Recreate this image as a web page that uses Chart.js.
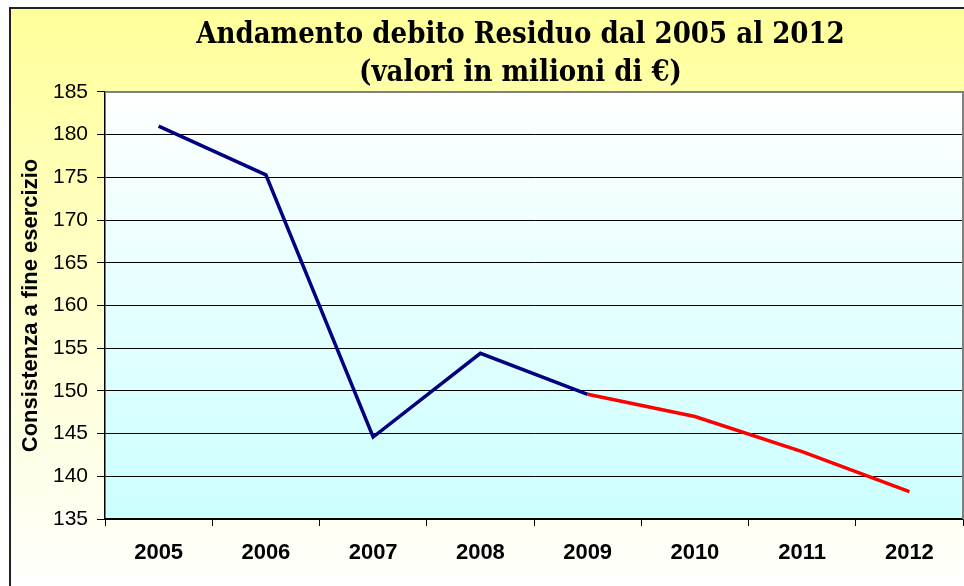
<!DOCTYPE html>
<html>
<head>
<meta charset="utf-8">
<script src="https://cdn.jsdelivr.net/npm/chart.js@4.4.0/dist/chart.umd.min.js"></script>
<style>
  html, body { margin: 0; padding: 0; background: #fff; }
  canvas { display: block; }
</style>
</head>
<body>
<canvas id="debito-residuo" width="964" height="586"></canvas>
<script>
// dati
const anni = ['2005', '2006', '2007', '2008', '2009', '2010', '2011', '2012'];
const debito = [181.0, 175.3, 144.6, 154.4, 149.6, 147.0, 142.9, 138.2];
const titolo = ['Andamento debito Residuo dal 2005 al 2012', '(valori in milioni di €)'];
const titoloAsseY = 'Consistenza a fine esercizio';
const asseYMin = 135;
const asseYMax = 185;
const asseYPasso = 5;
const primoAnnoRosso = 4; // dal 2009 la linea diventa rossa

// sfondo giallo + area grafico sfumata
const sfondo = {
    id: 'sfondo',
    afterLayout(chart) {
        // l'asse y torna ad occupare tutto il margine sinistro (il padding serve solo a centrare il titolo)
        const y = chart.scales.y;
        y.left = 0;
        y.width = y.right;
    },
    beforeDraw(chart) {
        const c = chart.ctx;
        const a = chart.chartArea;
        c.save();
        c.fillStyle = '#ffffff';
        c.fillRect(0, 0, chart.width, chart.height);
        const g = c.createLinearGradient(0, 7, 0, chart.height);
        g.addColorStop(0, '#ffff99');
        g.addColorStop(1, '#ffffff');
        c.fillStyle = g;
        c.fillRect(9, 7, chart.width - 9, chart.height - 7);
        c.strokeStyle = '#222';
        c.lineWidth = 2;
        c.beginPath();
        c.moveTo(10, chart.height);
        c.lineTo(10, 8);
        c.lineTo(chart.width, 8);
        c.stroke();
        const g2 = c.createLinearGradient(0, a.top, 0, a.bottom);
        g2.addColorStop(0, '#ffffff');
        g2.addColorStop(1, '#ccffff');
        c.fillStyle = g2;
        c.fillRect(a.left, a.top, a.right - a.left, a.bottom - a.top);
        c.restore();
    },
    beforeDatasetsDraw(chart) {
        const c = chart.ctx;
        const a = chart.chartArea;
        c.save();
        c.strokeStyle = '#808080';
        c.lineWidth = 2;
        c.beginPath();
        c.moveTo(a.left, a.top);
        c.lineTo(a.right, a.top);
        c.lineTo(a.right, a.bottom);
        c.stroke();
        c.restore();
    }
};

const ctx = document.getElementById('debito-residuo').getContext('2d');
const grafico = new Chart(ctx, {
    type: 'line',
    data: {
        labels: anni,
        datasets: [{
            label: 'Debito residuo',
            data: debito,
            borderColor: '#000080',
            borderWidth: 3.5,
            pointRadius: 0,
            tension: 0,
            segment: {
                borderColor: c => c.p0DataIndex >= primoAnnoRosso ? '#ff0000' : '#000080'
            }
        }]
    },
    options: {
        responsive: false,
        animation: false,
        // padding sinistro largo per centrare il titolo come nell'originale
        layout: { padding: { left: 78, right: 1, top: 0, bottom: 0 } },
        plugins: {
            legend: { display: false },
            tooltip: { enabled: false },
            title: {
                display: true,
                text: titolo,
                color: '#000',
                font: { family: "'DejaVu Serif Condensed', 'DejaVu Serif', serif", size: 29, weight: 'bold', lineHeight: 1.31 },
                padding: { top: 16, bottom: 0 }
            }
        },
        scales: {
            x: {
                offset: true,
                grid: { offset: true, drawOnChartArea: false, color: '#000', tickLength: 7 },
                border: { color: '#000', width: 1.5 },
                ticks: {
                    color: '#000',
                    padding: 14,
                    font: { family: "'Liberation Sans', Arial, sans-serif", size: 22, weight: 'bold' }
                },
                afterFit(scale) { scale.height = 67; }
            },
            y: {
                min: asseYMin,
                max: asseYMax,
                grid: { color: '#000', lineWidth: 1, tickLength: 8 },
                border: { color: '#000', width: 1.5 },
                ticks: {
                    stepSize: asseYPasso,
                    color: '#000',
                    padding: 9,
                    font: { family: "'Liberation Sans', Arial, sans-serif", size: 21 }
                },
                title: {
                    display: true,
                    text: titoloAsseY,
                    color: '#000',
                    font: { family: "'Liberation Sans', Arial, sans-serif", size: 22, weight: 'bold' },
                    padding: { top: 18, bottom: 0 }
                },
                afterFit(scale) { scale.width = 27; }
            }
        }
    },
    plugins: [sfondo]
});
</script>
</body>
</html>
